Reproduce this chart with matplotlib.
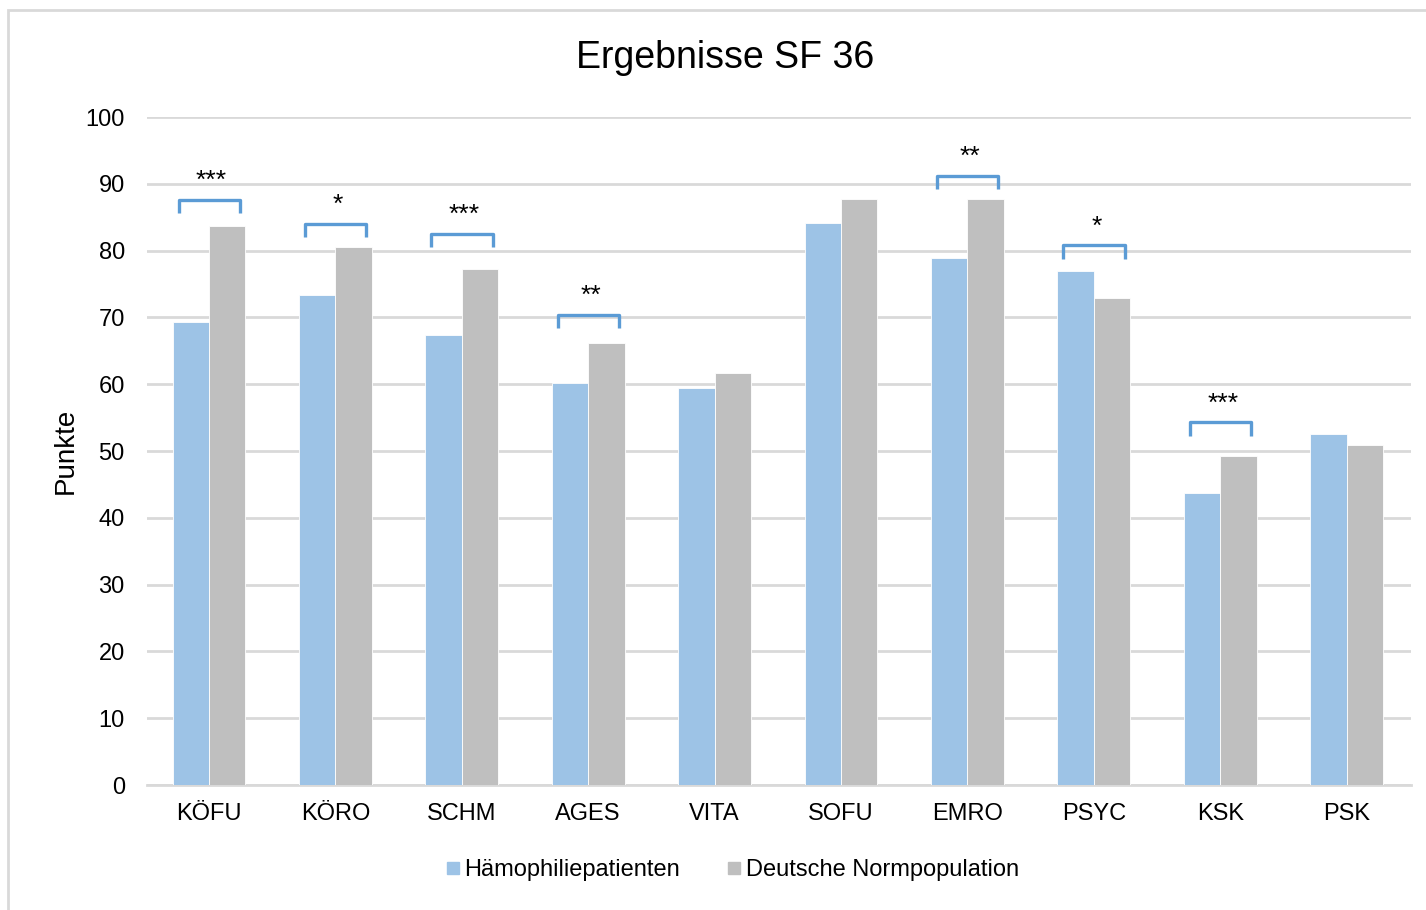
import numpy as np
import matplotlib.pyplot as plt
from matplotlib.patches import Rectangle
from matplotlib.lines import Line2D

plt.rcParams['font.family'] = ['Liberation Sans', 'DejaVu Sans']

# SF-36 Skalen
categories = ['KÖFU', 'KÖRO', 'SCHM', 'AGES', 'VITA', 'SOFU', 'EMRO', 'PSYC', 'KSK', 'PSK']
haemophilie = [69.3, 73.4, 67.4, 60.2, 59.4, 84.1, 78.9, 76.9, 43.7, 52.5]
normpopulation = [83.7, 80.5, 77.2, 66.2, 61.7, 87.7, 87.7, 72.9, 49.3, 50.9]

# Signifikanzen (Skala, Sterne, Höhe der Klammer)
sig_labels = ['***', '*', '***', '**', '', '', '**', '*', '***', '']
sig_heights = [87.6, 84.0, 82.5, 70.4, None, None, 91.2, 80.8, 54.3, None]

blue = '#9DC3E6'
grey = '#BFBFBF'
bracket_col = '#5B9BD5'
grid_col = '#D9D9D9'

fig = plt.figure(figsize=(14.26, 9.10), dpi=100)
ax = fig.add_axes([147 / 1426, 1 - 785 / 910, (1411 - 147) / 1426, (785 - 117) / 910])

# Rahmen um das Diagramm
fig.patches.append(Rectangle((8 / 1426, -0.05), 1.1, 1 - 10 / 910 + 0.05,
                             transform=fig.transFigure, fill=False,
                             edgecolor=grid_col, linewidth=2))

x = np.arange(len(categories))
w = 0.288
off = -0.01
ax.bar(x + off - w / 2, haemophilie, w, color=blue, edgecolor='white', linewidth=0.6,
       label='Hämophiliepatienten', zorder=3)
ax.bar(x + off + w / 2, normpopulation, w, color=grey, edgecolor='white', linewidth=0.6,
       label='Deutsche Normpopulation', zorder=3)

# Klammern mit Sternen
for i, (lab, h) in enumerate(zip(sig_labels, sig_heights)):
    if not lab:
        continue
    xl, xr = i + off - 0.24, i + off + 0.245
    ax.plot([xl, xl, xr, xr], [h - 2.0, h, h, h - 2.0], color=bracket_col,
            linewidth=2.4, solid_joinstyle='round', solid_capstyle='butt', zorder=4)
    ax.text(i + off + 0.02, h + 2.8, lab, ha='center', va='center', fontsize=19, zorder=4)

ax.set_xlim(-0.5, len(categories) - 0.5)
ax.set_ylim(0, 100)
ax.set_yticks(range(0, 101, 10))
ax.set_xticks(x + off)
ax.set_xticklabels(categories)
ax.tick_params(axis='both', length=0, labelsize=17)
ax.tick_params(axis='x', pad=13)
ax.tick_params(axis='y', pad=16)
ax.yaxis.grid(True, color=grid_col, linewidth=2)
ax.set_axisbelow(True)
for s in ['top', 'right', 'left']:
    ax.spines[s].set_visible(False)
ax.spines['bottom'].set_color(grid_col)
ax.spines['bottom'].set_linewidth(2)

ax.set_ylabel('Punkte', fontsize=20, labelpad=5)
fig.text(725 / 1426, 1 - 58 / 910, 'Ergebnisse SF 36', ha='center', va='center', fontsize=27)

handles = [Line2D([], [], marker='s', linestyle='none', markersize=9,
                  markerfacecolor=c, markeredgecolor=c) for c in (blue, grey)]
fig.legend(handles, ['Hämophiliepatienten', 'Deutsche Normpopulation'],
           loc='center', bbox_to_anchor=(730 / 1426, 1 - 870 / 910), ncol=2,
           frameon=False, fontsize=17, handletextpad=0.0, columnspacing=1.8,
           handlelength=1.0)

fig.savefig('out.png', dpi=100)
